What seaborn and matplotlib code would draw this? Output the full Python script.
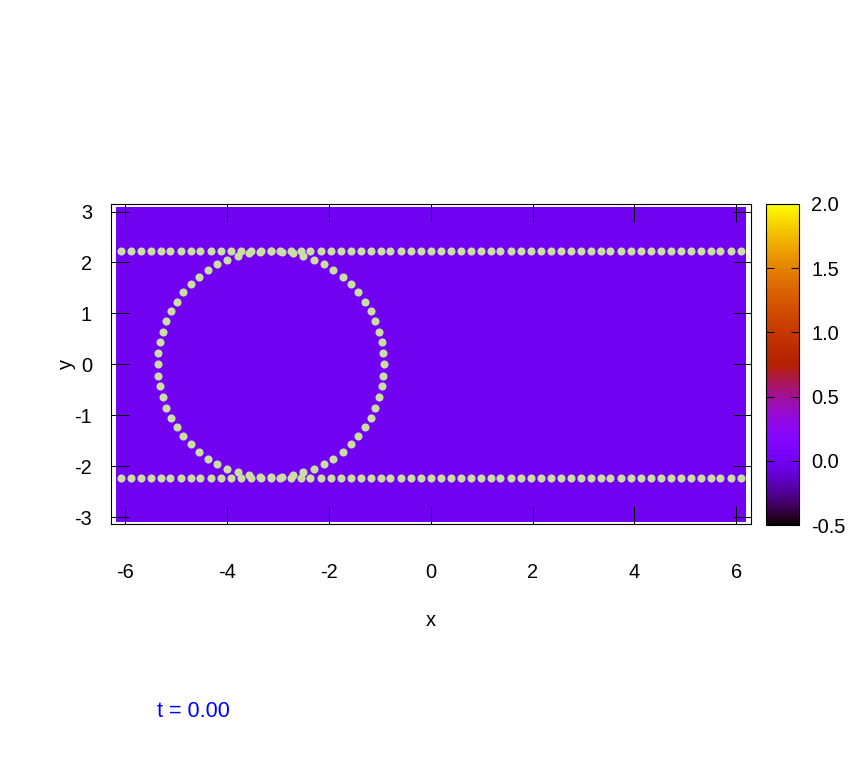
import numpy as np
import pandas as pd
import matplotlib
matplotlib.use("Agg")
import matplotlib.pyplot as plt
import seaborn as sns

# marker positions along the two horizontal interfaces (same x for both)
line_x = [-6.09, -5.89, -5.69, -5.50, -5.30, -5.11, -4.91, -4.71, -4.52, -4.32,
          -4.12, -3.93, -3.73, -3.53, -3.34, -3.14, -2.95, -2.75, -2.55, -2.36,
          -2.16, -1.96, -1.77, -1.57, -1.37, -1.18, -0.98, -0.79, -0.59, -0.39,
          -0.20, 0.00, 0.20, 0.39, 0.59, 0.79, 0.98, 1.18, 1.37, 1.57,
          1.77, 1.96, 2.16, 2.36, 2.55, 2.75, 2.95, 3.14, 3.34, 3.53,
          3.73, 3.93, 4.12, 4.32, 4.52, 4.71, 4.91, 5.11, 5.30, 5.50,
          5.69, 5.89, 6.09]
top_line_y = 2.23
bottom_line_y = -2.23

# marker positions on the circle
circle_x = [-0.92, -0.93, -0.96, -1.02, -1.09, -1.18, -1.29, -1.42, -1.57, -1.73, -1.91, -2.09, -2.29, -2.50, -2.71, -2.92,
            -3.14, -3.36, -3.57, -3.78, -3.99, -4.19, -4.37, -4.55, -4.71, -4.86, -4.99, -5.10, -5.19, -5.26, -5.32, -5.35,
            -5.36, -5.35, -5.32, -5.26, -5.19, -5.10, -4.99, -4.86, -4.71, -4.55, -4.37, -4.19, -3.99, -3.78, -3.57, -3.36,
            -3.14, -2.92, -2.71, -2.50, -2.29, -2.09, -1.91, -1.73, -1.57, -1.42, -1.29, -1.18, -1.09, -1.02, -0.96, -0.93]
circle_y = [0.00, 0.22, 0.43, 0.64, 0.85, 1.05, 1.23, 1.41, 1.57, 1.72, 1.85, 1.96, 2.05, 2.12, 2.18, 2.21,
            2.22, 2.21, 2.18, 2.12, 2.05, 1.96, 1.85, 1.72, 1.57, 1.41, 1.23, 1.05, 0.85, 0.64, 0.43, 0.22,
            0.00, -0.22, -0.43, -0.64, -0.85, -1.05, -1.23, -1.41, -1.57, -1.72, -1.85, -1.96, -2.05, -2.12, -2.18, -2.21,
            -2.22, -2.21, -2.18, -2.12, -2.05, -1.96, -1.85, -1.72, -1.57, -1.41, -1.23, -1.05, -0.85, -0.64, -0.43, -0.22]

# background field is uniform at t = 0
field_value = 0.0
field_shape = (32, 64)
cb_min, cb_max = -0.5, 2.0
x_ticks = [-6, -4, -2, 0, 2, 4, 6]
y_ticks = [-3, -2, -1, 0, 1, 2, 3]
cb_ticks = [-0.5, 0.0, 0.5, 1.0, 1.5, 2.0]
time_label = "t = 0.00"


def main():
    plt.rcParams["font.family"] = ["Liberation Sans", "DejaVu Sans"]
    plt.rcParams["axes.unicode_minus"] = False
    fs = 14.4

    pts = pd.concat([
        pd.DataFrame({"x": line_x, "y": top_line_y}),
        pd.DataFrame({"x": line_x, "y": bottom_line_y}),
        pd.DataFrame({"x": circle_x, "y": circle_y}),
    ], ignore_index=True)

    fig = plt.figure(figsize=(8.6, 7.6), dpi=100)
    ax = fig.add_axes([0.1287, 0.3101, 0.7442, 0.4211])
    cax = fig.add_axes([0.8907, 0.3092, 0.0380, 0.4224])

    field = np.full(field_shape, field_value)
    im = ax.imshow(field, cmap="gnuplot", vmin=cb_min, vmax=cb_max,
                   extent=[-6.18, 6.18, -3.09, 3.09], origin="lower",
                   aspect="auto", interpolation="nearest", zorder=0)

    sns.scatterplot(data=pts, x="x", y="y", ax=ax, s=34, color="#cbdca5",
                    linewidth=0, legend=False, zorder=1)

    ax.set_xlim(-2 * np.pi, 2 * np.pi)
    ax.set_ylim(-np.pi, np.pi)
    ax.set_facecolor("white")
    ax.set_xticks(x_ticks)
    ax.set_yticks(y_ticks)
    ax.tick_params(direction="in", top=True, right=True, length=13,
                   width=0.75, labelsize=fs, colors="black")
    ax.tick_params(axis="x", pad=28)
    ax.tick_params(axis="y", pad=13.5)
    for sp in ax.spines.values():
        sp.set_linewidth(0.8)

    ax.set_xlabel("x", fontsize=fs)
    ax.set_ylabel("y", fontsize=fs)
    ax.xaxis.set_label_coords(0.5, -0.272)
    ax.yaxis.set_label_coords(-0.054, 0.5)

    cb = fig.colorbar(im, cax=cax)
    cb.set_ticks(cb_ticks)
    cb.set_ticklabels([f"{v:.1f}" for v in cb_ticks])
    cb.outline.set_linewidth(0.8)
    cax.tick_params(direction="in", left=True, right=True, length=6,
                    width=0.75, labelsize=fs, pad=9)

    fig.text(157.3 / 860, 0.057, time_label, color="blue", fontsize=15.5,
             ha="left", va="baseline")

    fig.savefig("out.png", dpi=100)


if __name__ == "__main__":
    main()
